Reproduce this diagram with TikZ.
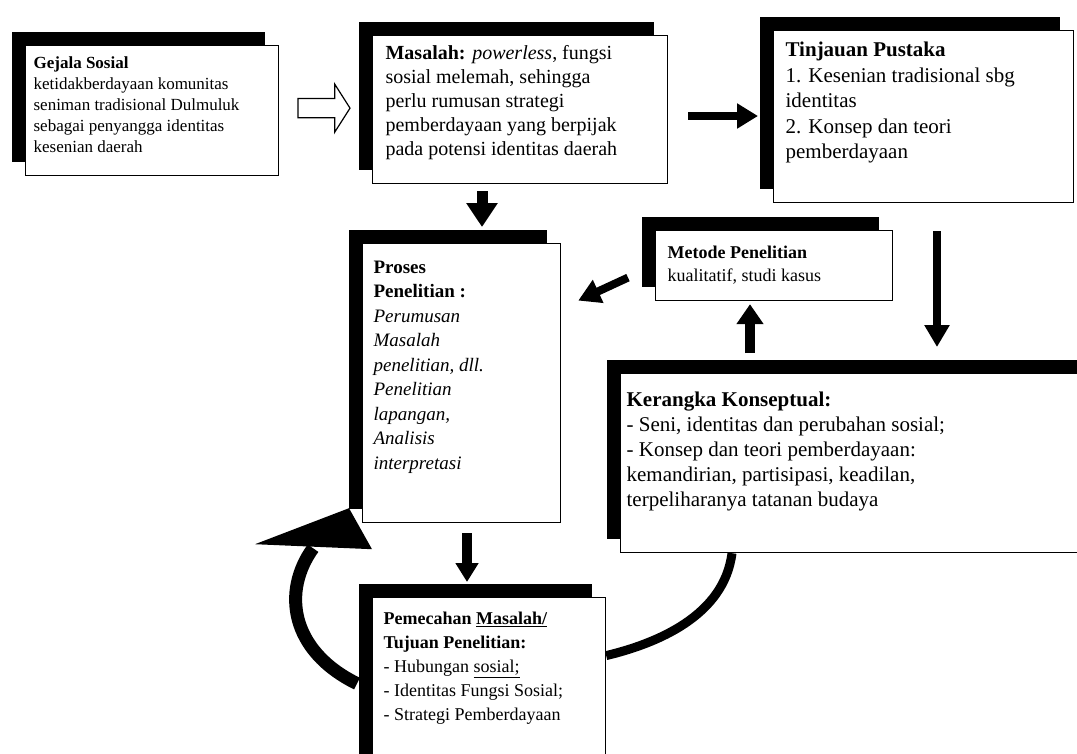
\documentclass[tikz,border=0pt]{standalone}
\usepackage{fontspec}
\setmainfont{Liberation Serif}
\usetikzlibrary{arrows.meta,shadows,shapes.arrows,calc,backgrounds}
\newcommand{\boxtxt}[5]{\parbox[t][#2pt][t]{#1pt}{\raggedright\fontsize{#3pt}{#4pt}\selectfont #5}}
\begin{document}
\begin{tikzpicture}[x=1pt,y=-1pt,
  bx/.style={draw=black,line width=1.2pt,fill=white,anchor=north west,
    drop shadow={shadow xshift=-14pt,shadow yshift=14pt,fill=black,opacity=1}},
  blk/.style n args={3}{draw=black,line width=#1,-{Triangle[length=#2,width=#3]}},
  curv/.style={draw=black,line width=#1}]
\useasboundingbox (0,0) rectangle (1077,753);
\clip (0,0) rectangle (1077,753);

\node[bx,inner xsep=8pt,inner ysep=11pt] (gejala) at (25,45)
  {\boxtxt{237}{108}{17}{21}{\textbf{Gejala Sosial}\\ketidakberdayaan komunitas\\seniman tradisional Dulmuluk\\sebagai penyangga identitas\\kesenian daerah}};
\node[bx,inner xsep=13pt,inner ysep=9.5pt] (masalah) at (372,35)
  {\boxtxt{269}{129}{20}{24}{\textbf{Masalah:} \textit{powerless}, fungsi\\sosial melemah, sehingga\\perlu rumusan strategi\\pemberdayaan yang berpijak\\pada potensi identitas daerah}};
\node[bx,inner xsep=12pt,inner ysep=11.7pt] (tinjauan) at (773,30)
  {\boxtxt{276}{148.6}{21}{25.5}{\textbf{Tinjauan Pustaka}\\1. Kesenian tradisional sbg\\identitas\\2. Konsep dan teori\\pemberdayaan}};
\node[bx,inner xsep=12pt,inner ysep=15.8pt] (metode) at (655,230)
  {\boxtxt{213}{38.4}{18}{23}{\textbf{Metode Penelitian}\\kualitatif, studi kasus}};
\node[bx,inner xsep=11pt,inner ysep=17pt] (proses) at (362,243)
  {\boxtxt{176}{245}{19}{24.5}{\textbf{Proses}\\\textbf{Penelitian :}\\\textit{Perumusan}\\\textit{Masalah}\\\textit{penelitian, dll.}\\\textit{Penelitian}\\\textit{lapangan,}\\\textit{Analisis}\\\textit{interpretasi}}};
\node[bx,inner xsep=6pt,inner ysep=18.7pt] (kerangka) at (620,373)
  {\boxtxt{478}{141.6}{21}{25}{\textbf{Kerangka Konseptual:}\\- Seni, identitas dan perubahan sosial;\\- Konsep dan teori pemberdayaan:\\kemandirian, partisipasi, keadilan,\\terpeliharanya tatanan budaya}};
\node[bx,inner xsep=11pt,inner ysep=14.8pt] (pemecahan) at (372,597)
  {\boxtxt{211}{148.4}{18}{24}{\textbf{Pemecahan \underline{Masalah/}}\\\textbf{Tujuan Penelitian:}\\- Hubungan \underline{sosial;}\\- Identitas Fungsi Sosial;\\- Strategi Pemberdayaan}};

% hollow block arrow
\node[single arrow,draw=black,fill=white,line width=1.2pt,minimum height=52pt,
  single arrow head extend=14.5pt,single arrow tip angle=115,
  inner sep=0pt] (harrow) at ($(gejala.east)!0.45!(masalah.west)+(0,-2)$) {\rule{0pt}{18pt}};

% straight arrows
\draw[blk={8pt}{21pt}{24pt}] ($(masalah.north east)+(20,81)$) -- ($(tinjauan.north west)+(-15,86)$);
\draw[blk={11pt}{24pt}{30pt}] ($(masalah.south west)+(110,7)$) -- ($(proses.north west)+(120,-16)$);
\draw[blk={8pt}{22pt}{24pt}] ($(tinjauan.south west)+(164,28)$) -- ($(kerangka.north west)+(317,-26)$);
\draw[blk={8pt}{22pt}{24pt}] ($(metode.west)+(-27,12)$) -- ($(proses.east)+(17,-82.5)$);
\draw[blk={10pt}{20pt}{26pt}] ($(kerangka.north west)+(130,-20)$) -- ($(metode.south west)+(95,3)$);
\draw[blk={10pt}{19pt}{22pt}] ($(proses.south west)+(105,10)$) -- ($(pemecahan.north west)+(95,-15)$);

% curved arrows (behind boxes)
\begin{scope}[on background layer]
\draw[curv=9pt] ($(kerangka.south west)+(112,0)$) .. controls +(-8,63) and +(50,-12) .. ($(pemecahan.east)+(0,-31)$);
\draw[curv=13pt] ($(pemecahan.west)+(-15,-3)$) .. controls +(-67,-33) and +(-31,43) .. ($(proses.south west)+(-49,25)$);
\end{scope}
\fill[black] ($(proses.south west)+(-107,21)$) -- ($(proses.south west)+(-13,-15)$) -- ($(proses.south west)+(10,26)$) -- cycle;
\end{tikzpicture}
\end{document}
